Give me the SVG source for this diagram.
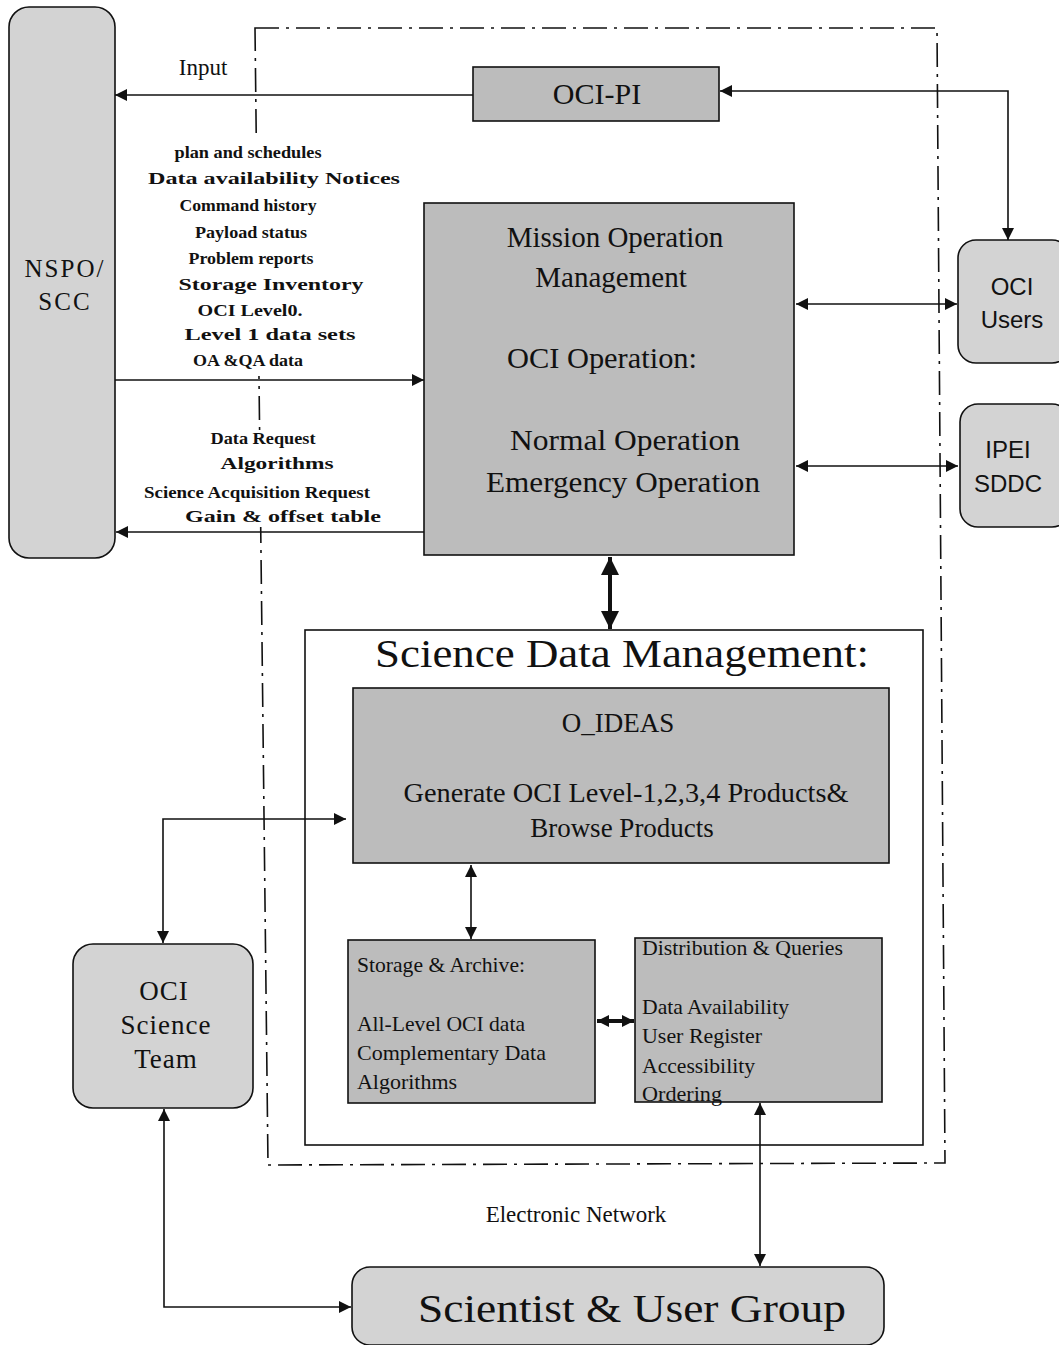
<svg xmlns="http://www.w3.org/2000/svg" width="1059" height="1345" viewBox="0 0 1059 1345">
<style>
.bg{fill:#ffffff}
.rbox{fill:#d3d3d3;stroke:#111;stroke-width:1.6}
.box{fill:#bcbcbc;stroke:#111;stroke-width:1.6}
.frame{fill:none;stroke:#111;stroke-width:1.6}
.bound{fill:none;stroke:#111;stroke-width:1.6;stroke-dasharray:24 7 3 7}
.ln{fill:none;stroke:#111;stroke-width:1.6}
.thick{fill:none;stroke:#111;stroke-width:4}
.sf{font-family:"Liberation Serif","DejaVu Serif",serif;fill:#111}
.ss{font-family:"Liberation Sans","DejaVu Sans",sans-serif;fill:#111}
.lb{font-family:"Liberation Serif","DejaVu Serif",serif;font-weight:bold;fill:#111;font-size:17px}
</style>
<defs>
<marker id="ah" viewBox="0 0 10 10" refX="10" refY="5" markerWidth="13" markerHeight="12" markerUnits="userSpaceOnUse" orient="auto-start-reverse">
<path d="M0,0 L10,5 L0,10 z" fill="#111"/>
</marker>
<marker id="ahb" viewBox="0 0 10 10" refX="10" refY="5" markerWidth="18" markerHeight="22" markerUnits="userSpaceOnUse" orient="auto-start-reverse">
<path d="M0,0 L10,5 L0,10 z" fill="#111"/>
</marker>
</defs>
<rect class="bg" x="0" y="0" width="1059" height="1345"/>

<!-- dash-dot system boundary -->
<path class="bound" d="M255,28 L937,28 L945,1163 L268,1165 Z"/>
<rect class="bg" x="140" y="133" width="270" height="243"/>
<rect class="bg" x="140" y="430" width="245" height="97"/>

<!-- connectors -->
<g id="connectors">
<line class="ln" x1="473" y1="95" x2="115" y2="95" marker-end="url(#ah)"/>
<polyline class="ln" points="1008,240 1008,91 720,91" marker-start="url(#ah)" marker-end="url(#ah)"/>
<line class="ln" x1="115" y1="380" x2="424" y2="380" marker-end="url(#ah)"/>
<line class="ln" x1="425" y1="532" x2="116" y2="532" marker-end="url(#ah)"/>
<line class="ln" x1="796" y1="304" x2="957" y2="304" marker-start="url(#ah)" marker-end="url(#ah)"/>
<line class="ln" x1="796" y1="466" x2="958" y2="466" marker-start="url(#ah)" marker-end="url(#ah)"/>
<line class="thick" x1="610" y1="557" x2="610" y2="629" marker-start="url(#ahb)" marker-end="url(#ahb)"/>
<polyline class="ln" points="163,943 163,819 346,819" marker-start="url(#ah)" marker-end="url(#ah)"/>
<line class="ln" x1="471" y1="865" x2="471" y2="939" marker-start="url(#ah)" marker-end="url(#ah)"/>
<line class="thick" x1="597" y1="1021" x2="634" y2="1021" marker-start="url(#ah)" marker-end="url(#ah)"/>
<line class="ln" x1="760" y1="1103" x2="760" y2="1266" marker-start="url(#ah)" marker-end="url(#ah)"/>
<polyline class="ln" points="164,1109 164,1307 351,1307" marker-start="url(#ah)" marker-end="url(#ah)"/>
</g>

<!-- flow labels -->
<g id="labels">
<text class="sf" x="203" y="75" font-size="23" text-anchor="middle">Input</text>
<text class="lb" x="248" y="158" text-anchor="middle" textLength="147" lengthAdjust="spacingAndGlyphs" font-size="15">plan and schedules</text>
<text class="lb" x="274" y="184" text-anchor="middle" textLength="252" lengthAdjust="spacingAndGlyphs" font-size="19">Data availability Notices</text>
<text class="lb" x="248" y="211" text-anchor="middle" textLength="137" lengthAdjust="spacingAndGlyphs" font-size="16">Command history</text>
<text class="lb" x="251" y="238" text-anchor="middle" textLength="112" lengthAdjust="spacingAndGlyphs" font-size="16">Payload status</text>
<text class="lb" x="251" y="264" text-anchor="middle" textLength="125" lengthAdjust="spacingAndGlyphs" font-size="16">Problem reports</text>
<text class="lb" x="271" y="290" text-anchor="middle" textLength="185" lengthAdjust="spacingAndGlyphs" font-size="19">Storage Inventory</text>
<text class="lb" x="250" y="316" text-anchor="middle" textLength="105" lengthAdjust="spacingAndGlyphs" font-size="16">OCI Level0.</text>
<text class="lb" x="270" y="340" text-anchor="middle" textLength="171" lengthAdjust="spacingAndGlyphs" font-size="19">Level 1 data sets</text>
<text class="lb" x="248" y="366" text-anchor="middle" textLength="110" lengthAdjust="spacingAndGlyphs" font-size="16">OA &amp;QA data</text>
<text class="lb" x="263" y="444" text-anchor="middle" textLength="105" lengthAdjust="spacingAndGlyphs" font-size="16">Data Request</text>
<text class="lb" x="277" y="469" text-anchor="middle" textLength="113" lengthAdjust="spacingAndGlyphs" font-size="19">Algorithms</text>
<text class="lb" x="257" y="498" text-anchor="middle" textLength="226" lengthAdjust="spacingAndGlyphs" font-size="16">Science Acquisition Request</text>
<text class="lb" x="283" y="522" text-anchor="middle" textLength="196" lengthAdjust="spacingAndGlyphs" font-size="19">Gain &amp; offset table</text>
<text class="sf" x="576" y="1222" font-size="23" text-anchor="middle">Electronic Network</text>
</g>

<!-- nodes -->
<g id="nspo-scc">
<rect class="rbox" x="9" y="7" width="106" height="551" rx="20" ry="20"/>
<text class="sf" x="65" y="277" font-size="25" text-anchor="middle" letter-spacing="2">NSPO/</text>
<text class="sf" x="65" y="310" font-size="25" text-anchor="middle" letter-spacing="2">SCC</text>
</g>

<g id="oci-pi">
<rect class="box" x="473" y="67" width="246" height="54"/>
<text class="sf" x="597" y="104" font-size="30" text-anchor="middle">OCI-PI</text>
</g>

<g id="mission-operation">
<rect class="box" x="424" y="203" width="370" height="352"/>
<text class="sf" x="615" y="247" font-size="29" text-anchor="middle">Mission Operation</text>
<text class="sf" x="611" y="287" font-size="29" text-anchor="middle">Management</text>
<text class="sf" x="602" y="368" font-size="29" text-anchor="middle" textLength="190" lengthAdjust="spacingAndGlyphs">OCI Operation:</text>
<text class="sf" x="625" y="450" font-size="29" text-anchor="middle" textLength="230" lengthAdjust="spacingAndGlyphs">Normal Operation</text>
<text class="sf" x="623" y="492" font-size="29" text-anchor="middle" textLength="274" lengthAdjust="spacingAndGlyphs">Emergency Operation</text>
</g>

<g id="oci-users">
<rect class="rbox" x="958" y="240" width="112" height="123" rx="18" ry="18"/>
<text class="ss" x="1012" y="295" font-size="24" text-anchor="middle">OCI</text>
<text class="ss" x="1012" y="328" font-size="24" text-anchor="middle">Users</text>
</g>

<g id="ipei-sddc">
<rect class="rbox" x="960" y="404" width="110" height="123" rx="18" ry="18"/>
<text class="ss" x="1008" y="458" font-size="24" text-anchor="middle">IPEI</text>
<text class="ss" x="1008" y="492" font-size="24" text-anchor="middle">SDDC</text>
</g>

<g id="science-data-management">
<rect class="frame" x="305" y="630" width="618" height="515"/>
<text class="sf" x="622" y="667" font-size="41" text-anchor="middle" textLength="494" lengthAdjust="spacingAndGlyphs">Science Data Management:</text>
</g>

<g id="o-ideas">
<rect class="box" x="353" y="688" width="536" height="175"/>
<text class="sf" x="618" y="732" font-size="27" text-anchor="middle">O_IDEAS</text>
<text class="sf" x="626" y="802" font-size="27" text-anchor="middle" textLength="445" lengthAdjust="spacingAndGlyphs">Generate OCI Level-1,2,3,4 Products&amp;</text>
<text class="sf" x="622" y="837" font-size="27" text-anchor="middle">Browse Products</text>
</g>

<g id="storage-archive">
<rect class="box" x="348" y="940" width="247" height="163"/>
<text class="sf" x="357" y="972" font-size="22" textLength="168" lengthAdjust="spacingAndGlyphs">Storage &amp; Archive:</text>
<text class="sf" x="357" y="1031" font-size="22" textLength="168" lengthAdjust="spacingAndGlyphs">All-Level OCI data</text>
<text class="sf" x="357" y="1060" font-size="22" textLength="189" lengthAdjust="spacingAndGlyphs">Complementary Data</text>
<text class="sf" x="357" y="1089" font-size="22" textLength="100" lengthAdjust="spacingAndGlyphs">Algorithms</text>
</g>

<g id="distribution-queries">
<rect class="box" x="635" y="938" width="247" height="164"/>
<text class="sf" x="642" y="955" font-size="22" textLength="201" lengthAdjust="spacingAndGlyphs">Distribution &amp; Queries</text>
<text class="sf" x="642" y="1014" font-size="22" textLength="147" lengthAdjust="spacingAndGlyphs">Data Availability</text>
<text class="sf" x="642" y="1043" font-size="22" textLength="120" lengthAdjust="spacingAndGlyphs">User Register</text>
<text class="sf" x="642" y="1073" font-size="22" textLength="113" lengthAdjust="spacingAndGlyphs">Accessibility</text>
<text class="sf" x="642" y="1101" font-size="22" textLength="80" lengthAdjust="spacingAndGlyphs">Ordering</text>
</g>

<g id="oci-science-team">
<rect class="rbox" x="73" y="944" width="180" height="164" rx="20" ry="20"/>
<text class="sf" x="164" y="1000" font-size="27" text-anchor="middle" letter-spacing="1">OCI</text>
<text class="sf" x="166" y="1034" font-size="27" text-anchor="middle" letter-spacing="1">Science</text>
<text class="sf" x="166" y="1068" font-size="27" text-anchor="middle" letter-spacing="1">Team</text>
</g>

<g id="scientist-user-group">
<rect class="rbox" x="352" y="1267" width="532" height="78" rx="18" ry="18"/>
<text class="sf" x="632" y="1322" font-size="40" text-anchor="middle" textLength="428" lengthAdjust="spacingAndGlyphs">Scientist &amp; User Group</text>
</g>
</svg>
